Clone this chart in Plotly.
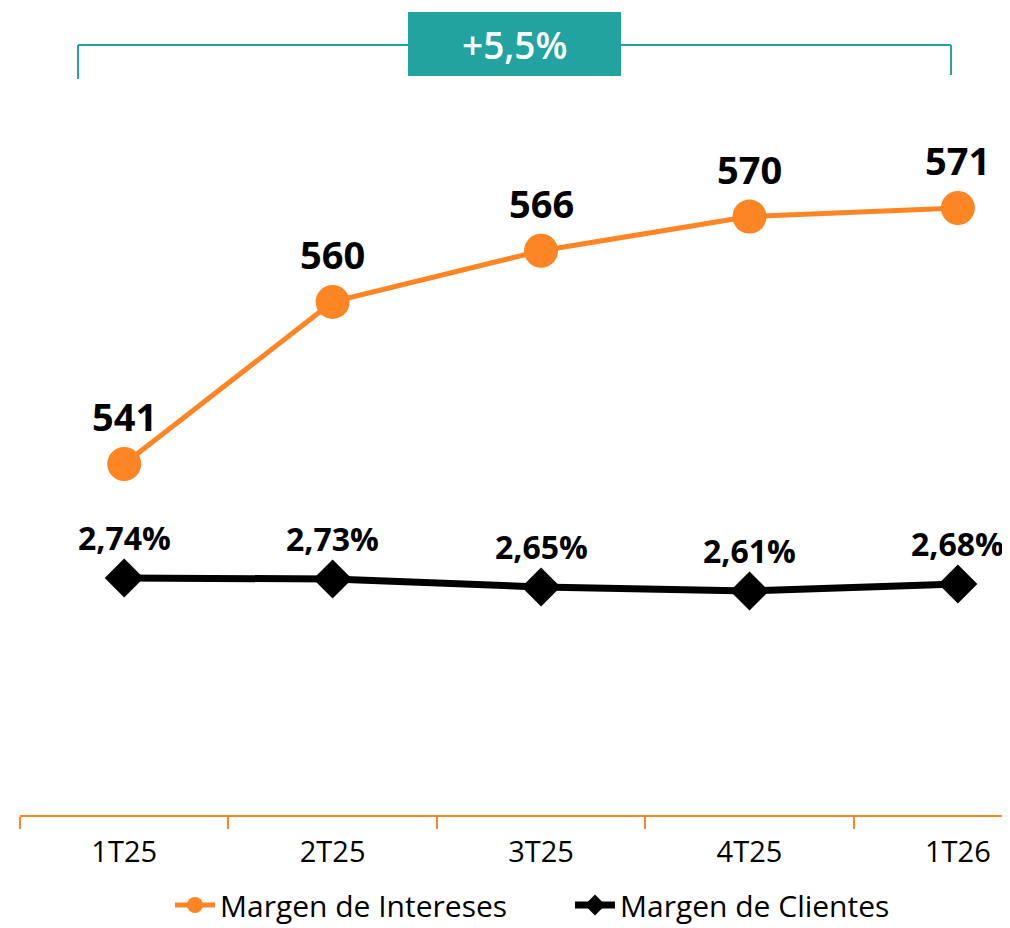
import plotly.graph_objects as go

categories = ["1T25", "2T25", "3T25", "4T25", "1T26"]
margen_intereses = [541, 560, 566, 570, 571]
margen_clientes = [2.74, 2.73, 2.65, 2.61, 2.68]
clientes_labels = ["2,74%", "2,73%", "2,65%", "2,61%", "2,68%"]
growth_label = "+5,5%"

ORANGE = "#FD8523"
BLACK = "#000000"
TEAL = "#22A3A0"
FONT = "Open Sans"

fig = go.Figure()
fig.add_trace(go.Scatter(
    x=categories, y=margen_intereses, name="Margen de Intereses",
    mode="lines+markers", line=dict(color=ORANGE, width=5),
    marker=dict(symbol="circle", size=34, color=ORANGE), yaxis="y"))
fig.add_trace(go.Scatter(
    x=categories, y=margen_clientes, name="Margen de Clientes",
    mode="lines+markers", line=dict(color=BLACK, width=7),
    marker=dict(symbol="diamond", size=30, color=BLACK), yaxis="y2"))

annotations = []
for c, v in zip(categories, margen_intereses):
    annotations.append(dict(x=c, y=v, xref="x", yref="y", text=f"<b>{v}</b>",
                            showarrow=False, yshift=48, yanchor="middle",
                            font=dict(family=FONT, size=38, color=BLACK)))
for c, v, t in zip(categories, margen_clientes, clientes_labels):
    annotations.append(dict(x=c, y=v, xref="x", yref="y2", text=f"<b>{t}</b>",
                            showarrow=False, yshift=41, yanchor="middle",
                            font=dict(family=FONT, size=32, color=BLACK)))

# plot area in page pixels: x 20..1010, y 100..815 (page has an 8px body margin)
def px_x(p):
    return (p - 20) / 990
def px_y(p):
    return (815 - p) / 715

annotations.append(dict(x=px_x(514.5), y=px_y(44), xref="paper", yref="paper",
                        text=growth_label, showarrow=False, xanchor="center", yanchor="middle",
                        font=dict(family=FONT, size=37, color="white", weight=600)))

shapes = [
    dict(type="line", xref="paper", yref="paper", x0=px_x(78), x1=px_x(951),
         y0=px_y(45), y1=px_y(45), line=dict(color=TEAL, width=2)),
    dict(type="line", xref="paper", yref="paper", x0=px_x(78), x1=px_x(78),
         y0=px_y(45), y1=px_y(79), line=dict(color=TEAL, width=2)),
    dict(type="line", xref="paper", yref="paper", x0=px_x(951), x1=px_x(951),
         y0=px_y(45), y1=px_y(75), line=dict(color=TEAL, width=2)),
    dict(type="rect", xref="paper", yref="paper", x0=px_x(408), x1=px_x(621),
         y0=px_y(12), y1=px_y(76), fillcolor=TEAL, line=dict(width=0)),
]

fig.update_layout(
    width=1002, height=920,
    margin=dict(l=12, r=0, t=92, b=113, autoexpand=False),
    paper_bgcolor="white", plot_bgcolor="white",
    font=dict(family=FONT, color=BLACK),
    xaxis=dict(type="category", range=[-0.5, 4.25], showgrid=False, zeroline=False,
               showline=True, linecolor=ORANGE, linewidth=2,
               ticks="outside", tickson="boundaries", ticklen=12, tickcolor=ORANGE,
               tickwidth=2, tickfont=dict(family=FONT, size=29, color=BLACK),
               ticklabelstandoff=10),
    yaxis=dict(range=[499.85, 583.67], visible=False, showgrid=False),
    yaxis2=dict(range=[0.37, 7.52], visible=False, showgrid=False,
                overlaying="y", side="right"),
    showlegend=True,
    legend=dict(orientation="h", x=px_x(170), xanchor="left", y=px_y(879),
                yanchor="top", font=dict(family=FONT, size=30, color=BLACK),
                entrywidth=345, entrywidthmode="pixels",
                itemwidth=40, traceorder="normal"),
    annotations=annotations, shapes=shapes,
)

fig.write_html("out.html")
